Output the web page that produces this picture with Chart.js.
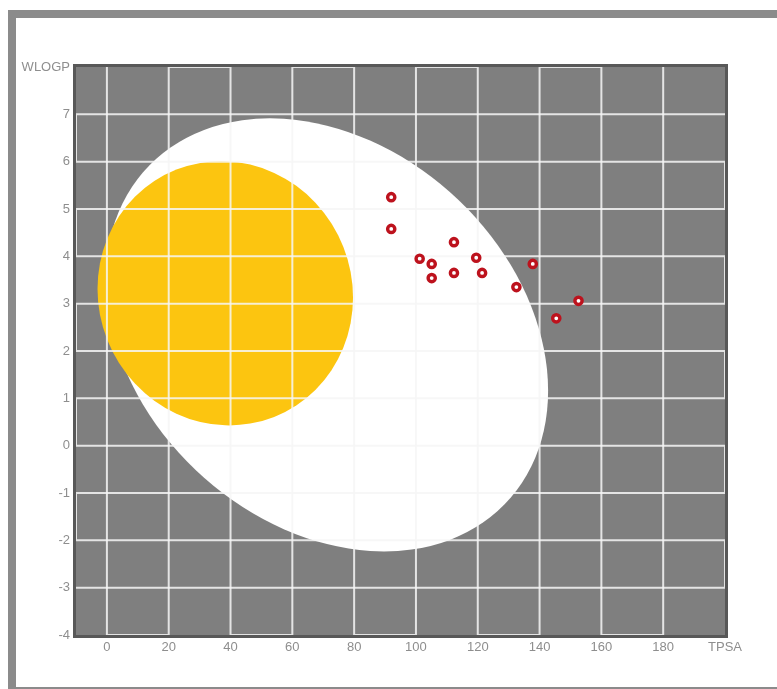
<!DOCTYPE html>
<html>
<head>
<meta charset="utf-8">
<script src="https://cdn.jsdelivr.net/npm/chart.js@4.4.1/dist/chart.umd.min.js"></script>
<style>
  html, body { margin: 0; padding: 0; background: #fff; overflow: hidden; }
  .frame { position: absolute; left: 8px; top: 10px; width: 820px; height: 685px; box-sizing: border-box; border: 8px solid #8b8b8b; }
  .wrap { position: absolute; left: 0; top: 0; width: 777px; height: 689px; }
</style>
</head>
<body>
<div class="frame"></div>
<div class="wrap"><canvas id="egg" width="777" height="689"></canvas></div>
<script>
// molecules (TPSA, WLOGP)
const tpsa  = [92.0, 92.0, 112.3, 101.2, 105.1, 119.5, 105.1, 112.3, 121.4, 137.8, 132.5, 152.6, 145.4];
const wlogp = [5.25, 4.58, 4.30, 3.95, 3.84, 3.97, 3.54, 3.65, 3.65, 3.84, 3.35, 3.06, 2.69];

const xTicks = [0, 20, 40, 60, 80, 100, 120, 140, 160, 180, 200];
const yTicks = [-4, -3, -2, -1, 0, 1, 2, 3, 4, 5, 6, 7, 8];

// egg white (HIA) and yolk (BBB): centre and two conjugate semi-axes, in data units
const whiteCenter = [71.2, 2.34];
const whiteAxes = [[71.56, -1.18], [0, -4.42]];
const yolkCenter = [38.3, 3.22];
const yolkAxes = [[41.34, -0.09], [0, -2.79]];

function drawEllipse(ctx, xs, ys, center, axes, color) {
  const cx = xs.getPixelForValue(center[0]), cy = ys.getPixelForValue(center[1]);
  const ux = xs.getPixelForValue(center[0] + axes[0][0]) - cx, uy = ys.getPixelForValue(center[1] + axes[0][1]) - cy;
  const vx = xs.getPixelForValue(center[0] + axes[1][0]) - cx, vy = ys.getPixelForValue(center[1] + axes[1][1]) - cy;
  ctx.save();
  ctx.transform(ux, uy, vx, vy, cx, cy);
  ctx.beginPath();
  ctx.arc(0, 0, 1, 0, Math.PI * 2);
  ctx.restore();
  ctx.fillStyle = color;
  ctx.fill();
}

const eggPlugin = {
  id: 'egg',
  beforeDatasetsDraw(chart) {
    const { ctx, chartArea: a, scales: { x, y } } = chart;
    ctx.save();
    ctx.fillStyle = '#7f7f7f';
    ctx.fillRect(a.left, a.top, a.width, a.height);
    drawEllipse(ctx, x, y, whiteCenter, whiteAxes, '#ffffff');
    drawEllipse(ctx, x, y, yolkCenter, yolkAxes, '#fcc510');

    // grid drawn as one snaking line, like the original
    ctx.strokeStyle = 'rgba(246,246,246,0.85)';
    ctx.lineWidth = 2;
    const top = y.getPixelForValue(8), bottom = y.getPixelForValue(-4);
    ctx.beginPath();
    xTicks.slice(0, -1).forEach((v, i) => {
      const px = x.getPixelForValue(v);
      const from = i % 2 ? bottom : top, to = i % 2 ? top : bottom;
      if (i === 0) ctx.moveTo(px, from); else ctx.lineTo(px, from);
      ctx.lineTo(px, to);
    });
    ctx.stroke();
    const left = x.getPixelForValue(-10), right = x.getPixelForValue(200);
    ctx.beginPath();
    yTicks.slice(1, -1).reverse().forEach((v, i) => {
      const py = y.getPixelForValue(v);
      const from = i % 2 ? left : right, to = i % 2 ? right : left;
      if (i === 0) ctx.moveTo(from, py); else ctx.lineTo(from, py);
      ctx.lineTo(to, py);
    });
    ctx.stroke();

    ctx.strokeStyle = '#585858';
    ctx.lineWidth = 3;
    ctx.strokeRect(a.left - 1.5, a.top - 1.5, a.width + 3, a.height + 3);
    ctx.restore();
  }
};

const tickFont = { family: 'Arial, "Liberation Sans", sans-serif', size: 13 };

new Chart(document.getElementById('egg'), {
  type: 'scatter',
  data: {
    datasets: [{
      data: tpsa.map((t, i) => ({ x: t, y: wlogp[i] })),
      pointRadius: 3.6,
      pointBorderWidth: 3.4,
      borderColor: '#bd121d',
      backgroundColor: '#ffffff'
    }]
  },
  plugins: [eggPlugin],
  options: {
    responsive: false,
    animation: false,
    devicePixelRatio: 1,
    layout: { padding: { left: 0, top: 67, right: 52, bottom: 24 } },
    plugins: { legend: { display: false }, tooltip: { enabled: false } },
    scales: {
      x: {
        type: 'linear', min: -10, max: 200,
        afterBuildTicks: s => { s.ticks = xTicks.map(v => ({ value: v })); },
        afterFit: s => { s.height = 30; },
        grid: { display: false, drawTicks: false },
        border: { display: false },
        ticks: { autoSkip: false, maxRotation: 0, padding: 5, color: '#8e8e8e', font: tickFont,
                 callback: v => v === 200 ? 'TPSA' : v }
      },
      y: {
        type: 'linear', min: -4, max: 8,
        afterBuildTicks: s => { s.ticks = yTicks.map(v => ({ value: v })); },
        afterFit: s => { s.width = 76; },
        grid: { display: false, drawTicks: false },
        border: { display: false },
        ticks: { autoSkip: false, padding: 6, color: '#8e8e8e', font: tickFont,
                 callback: v => v === 8 ? 'WLOGP' : v }
      }
    }
  }
});
</script>
</body>
</html>
